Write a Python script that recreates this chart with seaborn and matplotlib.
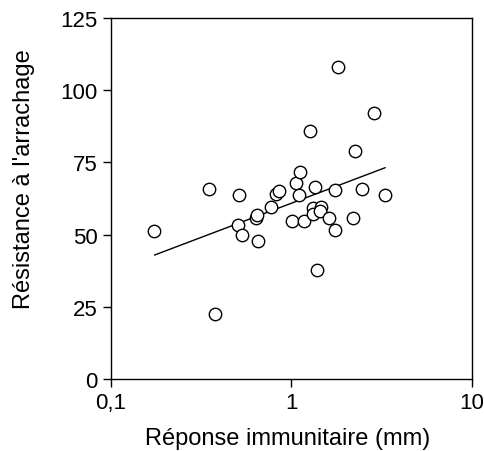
import numpy as np
import pandas as pd
import matplotlib
matplotlib.use('Agg')
import matplotlib.pyplot as plt
import matplotlib.ticker as mticker
import seaborn as sns

# Data
reponse = [0.174, 0.349, 0.512, 0.503, 0.530, 0.633, 0.647, 0.650, 0.770, 0.818,
           0.849, 1.055, 1.105, 1.006, 1.168, 1.355, 1.316, 1.457, 1.321, 1.439,
           1.620, 1.742, 1.735, 2.199, 2.466, 3.310, 1.379, 0.375, 1.810, 2.854,
           1.271, 2.248, 1.119]
resistance = [51.1, 65.7, 63.7, 53.2, 49.9, 55.6, 56.8, 47.7, 59.7, 64.1,
              65.0, 67.8, 63.7, 54.6, 54.6, 66.4, 59.1, 59.7, 57.1, 58.1,
              55.6, 65.6, 51.6, 55.6, 65.7, 63.6, 37.7, 22.4, 107.9, 92.2,
              85.8, 79.1, 71.6]
x_ticks = [0.1, 1, 10]
x_ticklabels = ['0,1', '1', '10']
y_ticks = [0, 25, 50, 75, 100, 125]

df = pd.DataFrame({'Reponse': reponse, 'Resistance': resistance})

sns.set_style('ticks')
plt.rcParams['font.family'] = ['Liberation Sans', 'DejaVu Sans']
plt.rcParams['text.color'] = 'black'
plt.rcParams['axes.labelcolor'] = 'black'

fig = plt.figure(figsize=(4.85, 4.52), dpi=100)
ax = fig.add_axes([0.229, 0.159, 0.744, 0.799])

sns.regplot(data=df, x='Reponse', y='Resistance', logx=True, ci=None, ax=ax,
            scatter_kws={'s': 80, 'facecolors': 'white', 'edgecolors': 'black',
                         'linewidths': 1, 'alpha': 1, 'zorder': 3},
            line_kws={'color': 'black', 'linewidth': 1, 'zorder': 2})

ax.set_xscale('log')
ax.set_xlim(0.1, 10)
ax.set_ylim(0, 125)
ax.set_xticks(x_ticks)
ax.set_xticklabels(x_ticklabels)
ax.xaxis.set_minor_locator(mticker.NullLocator())
ax.set_yticks(y_ticks)

for s in ax.spines.values():
    s.set_visible(True)
    s.set_color('black')
    s.set_linewidth(1)
ax.tick_params(direction='out', length=5.5, width=1, colors='black',
               labelcolor='black', labelsize=16, pad=4)

ax.set_xlabel('Réponse immunitaire (mm)', fontsize=17)
ax.set_ylabel("Résistance à l'arrachage", fontsize=17)
ax.xaxis.set_label_coords(0.489, -0.133)
ax.yaxis.set_label_coords(-0.212, 0.557)

fig.savefig('out.png', dpi=100, facecolor='white')
